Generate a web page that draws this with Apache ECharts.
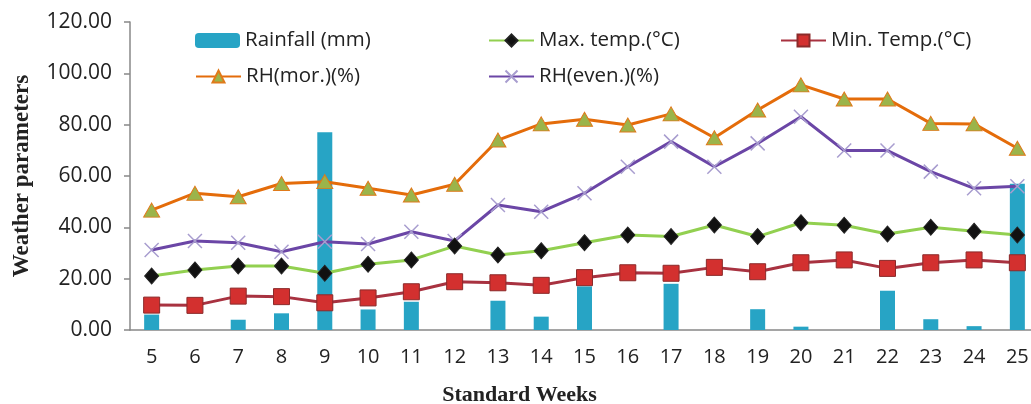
<!DOCTYPE html>
<html><head><meta charset="utf-8">
<script src="https://cdn.jsdelivr.net/npm/echarts@6/dist/echarts.min.js"></script>
<style>html,body{margin:0;padding:0;background:#fff}#c{width:1031px;height:404px}</style>
</head><body><div id="c"></div>
<script>
const weeks = ['5','6','7','8','9','10','11','12','13','14','15','16','17','18','19','20','21','22','23','24','25'];
const rainfall = [6, 0, 4, 6.5, 77, 8, 11, 0, 11.4, 5.2, 17, 0, 18, 0, 8.1, 1.3, 0, 15.3, 4.2, 1.5, 57];
const maxTemp = [21.0, 23.4, 24.9, 24.9, 22.1, 25.6, 27.3, 32.7, 29.2, 30.9, 34.0, 37.0, 36.4, 40.9, 36.4, 41.8, 40.8, 37.4, 40.0, 38.5, 37.0];
const minTemp = [9.7, 9.6, 13.2, 13.0, 10.6, 12.5, 14.9, 18.8, 18.4, 17.4, 20.4, 22.3, 22.1, 24.4, 22.7, 26.2, 27.3, 24.0, 26.2, 27.3, 26.2];
const rhMor = [46.7, 53.3, 51.9, 57.1, 57.8, 55.2, 52.6, 56.8, 74.0, 80.3, 82.1, 79.9, 84.2, 74.9, 85.7, 95.5, 90.0, 90.0, 80.5, 80.3, 70.8];
const rhEven = [31.2, 34.7, 34.0, 30.5, 34.4, 33.5, 38.3, 34.7, 48.7, 46.1, 53.3, 63.6, 73.4, 63.6, 72.7, 83.1, 69.9, 69.9, 61.7, 55.2, 56.0];
const names = ['Rainfall (mm)', 'Max. temp.(°C)', 'Min. Temp.(°C)', 'RH(mor.)(%)', 'RH(even.)(%)'];

const chart = echarts.init(document.getElementById('c'));
const legText = {fontFamily: 'Open Sans', fontSize: 20.5, color: '#222'};
function leg(name, left, top) {
  return {data: [name], left: left, top: top, itemWidth: 45, itemHeight: 15, itemGap: 0,
    textStyle: legText, selectedMode: false, padding: 0};
}
const xPath = 'path://M0,0 L10,10 M10,0 L0,10';
chart.setOption({
  animation: false,
  legend: [leg(names[0], 195, 30), leg(names[1], 488, 30), leg(names[2], 780, 30),
           leg(names[3], 195, 66), leg(names[4], 488, 66)],
  grid: {left: 130, right: -8, top: 22, bottom: 74, outerBoundsMode: 'none', containLabel: false},
  xAxis: {
    type: 'category', data: weeks,
    name: 'Standard Weeks', nameLocation: 'middle', nameGap: 54,
    nameTextStyle: {fontFamily: 'Liberation Serif', fontWeight: 'bold', fontSize: 22, color: '#222',
      padding: [0, 130, 0, 0]},
    axisLine: {lineStyle: {color: '#888', width: 1.5}},
    axisTick: {length: 7, lineStyle: {color: '#888', width: 1.5}},
    axisLabel: {fontFamily: 'Open Sans', fontSize: 20, color: '#222', margin: 17}
  },
  yAxis: {
    type: 'value', min: 0, max: 120, interval: 20,
    name: 'Weather parameters', nameLocation: 'middle', nameGap: 96,
    nameTextStyle: {fontFamily: 'Liberation Serif', fontWeight: 'bold', fontSize: 23, color: '#222'},
    axisLine: {show: true, lineStyle: {color: '#888', width: 1.5}},
    axisTick: {show: true, length: 6, lineStyle: {color: '#888', width: 1.5}},
    splitLine: {show: false},
    axisLabel: {fontFamily: 'Open Sans', fontSize: 21, color: '#222', margin: 18,
      formatter: v => v.toFixed(2)}
  },
  series: [
    {name: names[0], type: 'bar', data: rainfall, barWidth: 15, itemStyle: {color: '#27a4c5'}, z: 1},
    {name: names[1], type: 'line', data: maxTemp, symbol: 'diamond', symbolSize: [14, 16],
      lineStyle: {color: '#92d050', width: 3}, itemStyle: {color: '#111', borderColor: '#222', borderWidth: 1}, z: 3},
    {name: names[2], type: 'line', data: minTemp, symbol: 'rect', symbolSize: 16,
      lineStyle: {color: '#a83240', width: 3}, itemStyle: {color: '#d3302f', borderColor: '#8b2a2a', borderWidth: 1}, z: 3},
    {name: names[3], type: 'line', data: rhMor, symbol: 'triangle', symbolSize: [16, 14],
      lineStyle: {color: '#e46c0a', width: 3}, itemStyle: {color: '#9bb44a', borderColor: '#e07a1a', borderWidth: 1}, z: 3},
    {name: names[4], type: 'line', data: rhEven, symbol: xPath, symbolSize: 14,
      lineStyle: {color: '#6b46a6', width: 3}, itemStyle: {color: '#a89dcf', borderColor: '#a89dcf', borderWidth: 1.5}, z: 2}
  ]
});
</script></body></html>
